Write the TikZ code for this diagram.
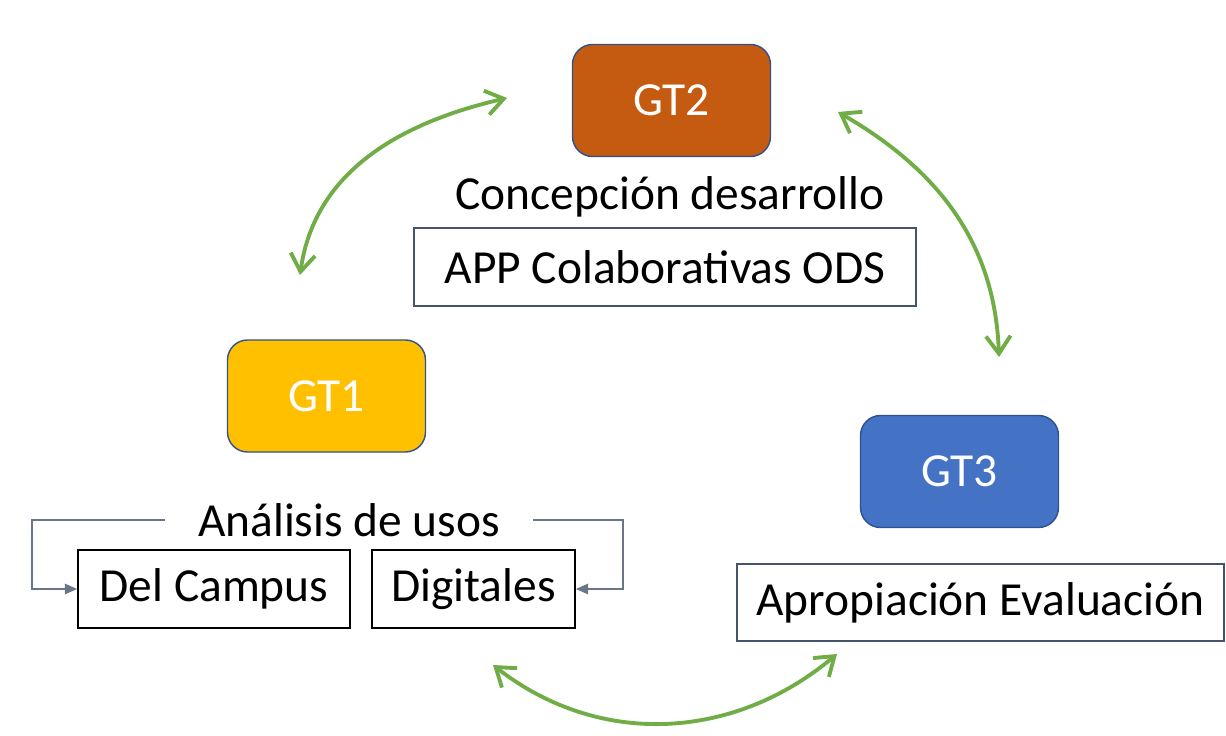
\documentclass[tikz,border=0pt]{standalone}
\usepackage{fontspec}
\setmainfont{Carlito}
\usepackage{tikz}
\usetikzlibrary{arrows.meta}

\definecolor{gtorange}{HTML}{C55A11}
\definecolor{gtgold}{HTML}{FFC000}
\definecolor{gtblue}{HTML}{4472C4}
\definecolor{gtedge}{HTML}{2F528F}
\definecolor{slate}{HTML}{44546A}
\definecolor{cyclegreen}{HTML}{70AD47}

\tikzset{
 big/.style = {font=\fontsize{27}{32}\selectfont},
 gtbox/.style = {big, rounded corners=0.4cm, draw=gtedge, line width=0.8pt, text=white, minimum width=3.96cm, minimum height=2.24cm},
 textbox/.style = {big, draw, line width=1pt, minimum height=1.55cm, inner xsep=0pt},
 cyclearrow/.style = {cyclegreen, line width=2.2pt, {Straight Barb[length=10pt,width=14pt]}-{Straight Barb[length=10pt,width=14pt]}},
 feed/.style = {slate!80, line width=0.8pt, -{Triangle[length=7pt,width=6pt]}}
}

\begin{document}
\begin{tikzpicture}
\useasboundingbox (0,0) rectangle (24.52,-14.7);

\node[gtbox, fill=gtorange] (gt2) at (13.43,-2.01) {GT2};
\node[big] (concepcion) at (13.4,-3.94) {Concepción desarrollo};
\node[textbox, draw=slate, minimum width=10.04cm] (app) at (13.3,-5.34) {APP Colaborativas ODS};

\node[gtbox, fill=gtgold] (gt1) at (6.53,-7.92) {GT1};
\node[big, inner xsep=0.66cm] (analisis) at (6.98,-10.4) {Análisis de usos};
\node[textbox, draw=black, minimum width=5.44cm] (campus) at (4.28,-11.78) {Del Campus};
\node[textbox, draw=black, minimum width=4.06cm] (digitales) at (9.47,-11.78) {Digitales};

\node[gtbox, fill=gtblue] (gt3) at (19.19,-9.43) {GT3};
\node[textbox, draw=slate, minimum width=9.74cm] (apropiacion) at (19.61,-12.05) {Apropiación Evaluación};

\coordinate (lbend) at (0.64,-11);
\coordinate (rbend) at (12.46,-11);
\draw[feed] (analisis.west) -| (lbend) |- (campus.west);
\draw[feed] (analisis.east) -| (rbend) |- (digitales.east);

\coordinate (c1a) at (6.0,-5.5);
\coordinate (c1b) at (10.14,-1.96);
\coordinate (c2a) at (16.76,-2.24);
\coordinate (c2b) at (19.98,-7.14);
\coordinate (c3a) at (9.86,-13.3);
\coordinate (c3b) at (16.74,-13.08);
\draw[cyclearrow] (c1a) to[out=82, in=193] (c1b);
\draw[cyclearrow] (c2a) to[out=-30, in=92] (c2b);
\draw[cyclearrow] (c3a) to[out=-38, in=-140] (c3b);

\end{tikzpicture}
\end{document}
